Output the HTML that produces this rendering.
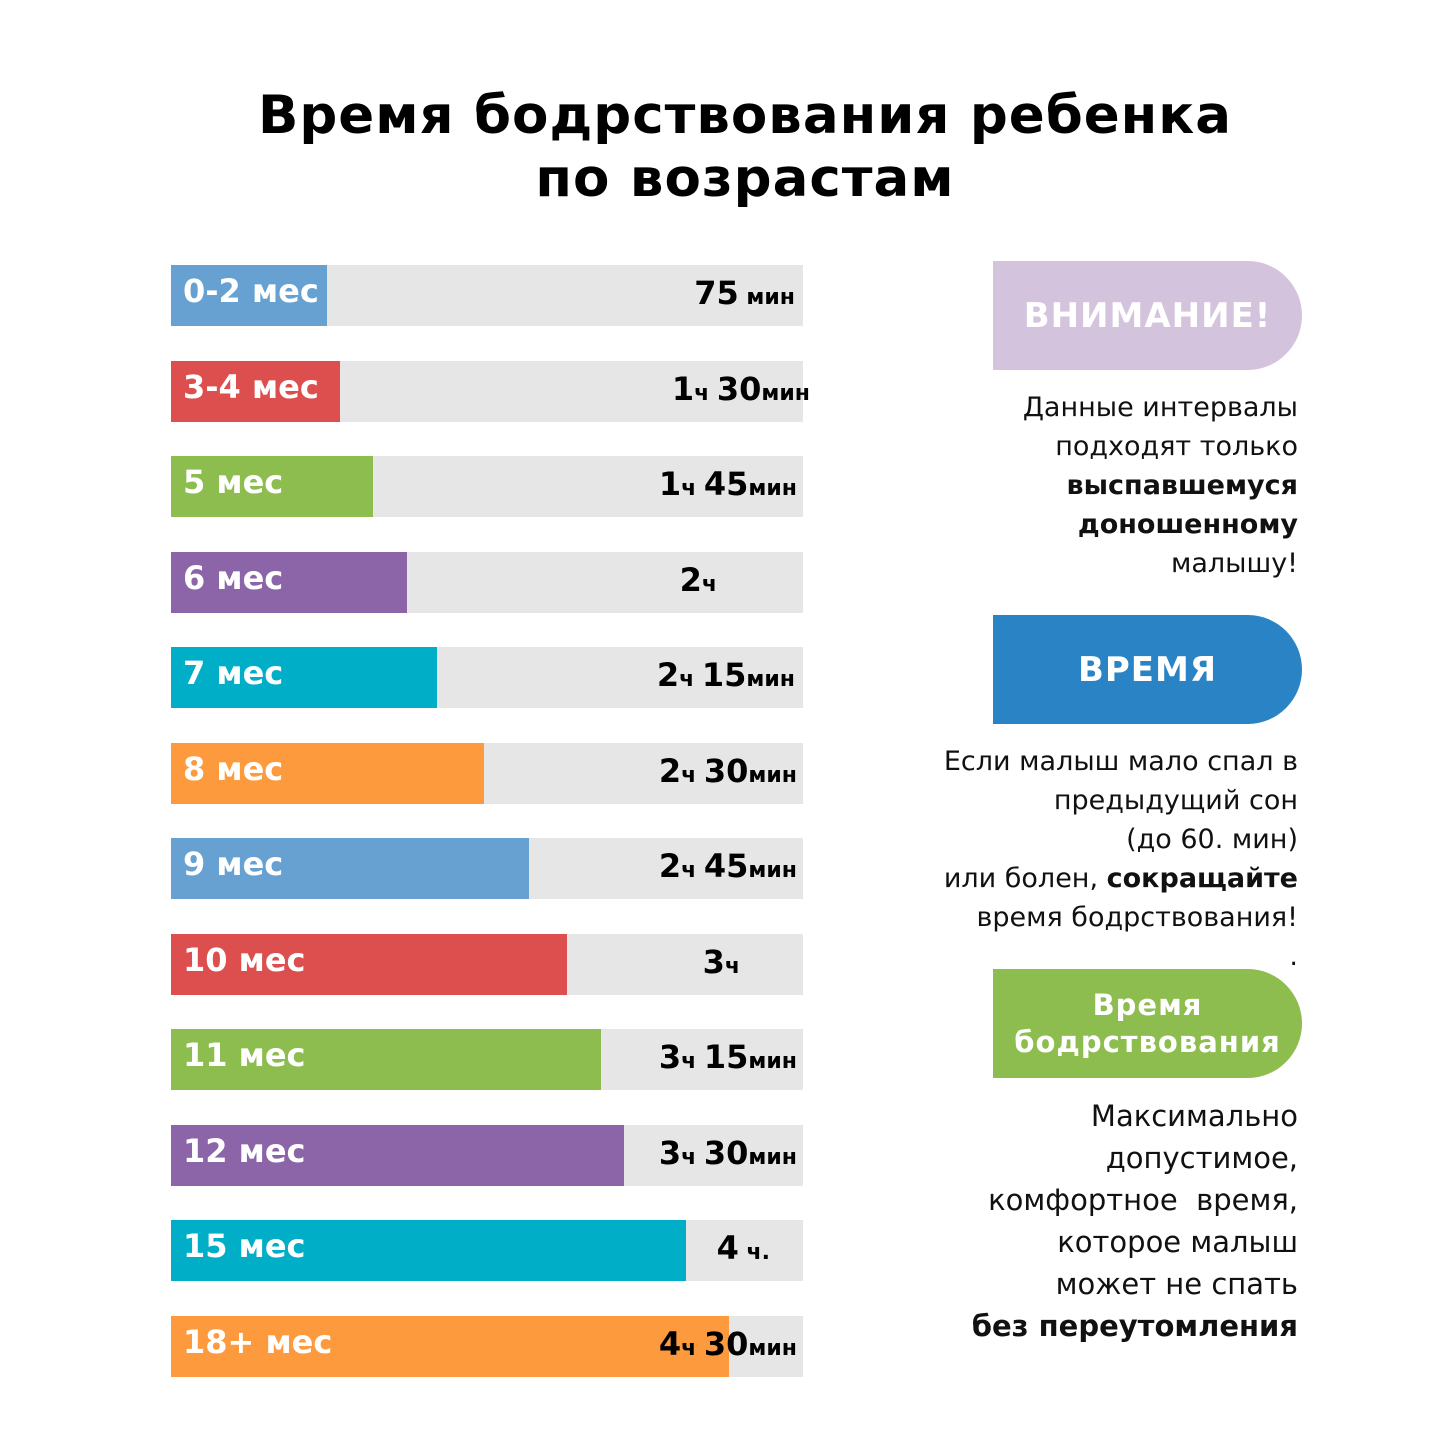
<!DOCTYPE html>
<html><head><meta charset="utf-8">
<style>
body{margin:0;background:#fff;width:1440px;height:1440px;position:relative;overflow:hidden;font-family:"DejaVu Sans","Liberation Sans",sans-serif;}
.abs{position:absolute;}
h1{position:absolute;left:0;width:1490px;top:84px;margin:0;text-align:center;font-size:53px;line-height:63px;font-weight:bold;color:#000;letter-spacing:1px;}
.track{position:absolute;left:171px;width:632px;height:61px;background:#e6e6e6;}
.fill{position:absolute;left:0;top:0;height:61px;overflow:hidden;}
.lab{position:absolute;left:12px;top:6px;color:#fff;font-weight:bold;font-size:32px;white-space:nowrap;line-height:40px;}
.val{position:absolute;font-weight:bold;font-size:32px;color:#000;white-space:nowrap;text-align:right;line-height:40px;}
.val small{font-size:22px;font-weight:bold;}
.box{position:absolute;left:993px;width:309px;height:109px;border-radius:0 55px 55px 0/0 55px 55px 0;color:#fff;font-weight:bold;display:flex;align-items:center;justify-content:center;text-align:center;}
.note{position:absolute;right:142px;text-align:right;font-size:27px;line-height:39px;color:#111;white-space:nowrap;}
</style></head><body>
<h1>Время бодрствования ребенка<br>по возрастам</h1>
<div id="chart"></div>

<div class="box" style="top:261px;background:#d4c3dc;font-size:34px;letter-spacing:1px;">ВНИМАНИЕ!</div>
<div class="note" style="top:388px;">Данные интервалы<br>подходят только<br><b>выспавшемуся</b><br><b>доношенному</b><br>малышу!</div>

<div class="box" style="top:615px;background:#2a83c5;font-size:34px;letter-spacing:1px;">ВРЕМЯ</div>
<div class="note" style="top:742px;">Если малыш мало спал в<br>предыдущий сон<br>(до 60. мин)<br>или болен, <b>сокращайте</b><br>время бодрствования!<br>.</div>

<div class="box" style="top:969px;background:#8dbd4f;font-size:29px;line-height:37px;letter-spacing:1px;">Время<br>бодрствования</div>
<div class="note" style="top:1095px;font-size:29px;line-height:42px;">Максимально<br>допустимое,<br>комфортное&nbsp; время,<br>которое малыш<br>может не спать<br><b>без переутомления</b></div>

<script>
const categories=["0-2 мес","3-4 мес","5 мес","6 мес","7 мес","8 мес","9 мес","10 мес","11 мес","12 мес","15 мес","18+ мес"];
const fillPercent=[24.7,26.7,32,37.3,42.1,49.5,56.6,62.7,68,71.7,81.5,88.3];
const bigText=["75","1","1","2","2","2","2","3","3","3","4","4"];
const mid=["","ч ","ч ","ч","ч ","ч ","ч ","ч","ч ","ч ","",  "ч "];
const minText=["","30","45","","15","30","45","","15","30","",  "30"];
const unitText=[" мин","мин","мин","","мин","мин","мин","","мин","мин"," ч.","мин"];
const colors=["#66a1d1","#dd4e4e","#8dbd4f","#8c65a8","#01aec7","#fd9a3e","#66a1d1","#dd4e4e","#8dbd4f","#8c65a8","#01aec7","#fd9a3e"];
const valRight=[645,630,643,723,645,643,643,700,643,643,670,643];
const chart=document.getElementById('chart');
const trackW=632, top0=265, step=95.5;
const xScale=p=>p/100*trackW;
categories.forEach((c,i)=>{
  const t=document.createElement('div');
  t.className='track';
  
  
  t.style.top=(top0+i*step)+'px';
  const f=document.createElement('div');
  f.className='fill';
  
  
  f.style.width=xScale(fillPercent[i])+'px';
  f.style.background=colors[i];
  const l=document.createElement('div');
  l.className='lab';
  
  
  l.textContent=c;
  f.appendChild(l);
  t.appendChild(f);
  const v=document.createElement('div');
  v.className='val';
  
  
  v.style.right=(trackW-valRight[i]-(i==1?0:0))+'px';
  v.style.right='auto';
  v.style.left='auto';
  let h=bigText[i]+(mid[i]?'<small>'+mid[i]+'</small>':'')+minText[i]+'<small>'+unitText[i]+'</small>';
  if(i==10) h='4<small> ч.</small>';
  v.innerHTML=h;
  v.style.top='8px';
  t.appendChild(v);
  requestAnimationFrame(()=>{});
  const ends=[795,810,797,717,795,797,797,740,797,797,770,797];
  v.style.right=(171+trackW-ends[i])+'px';
  chart.appendChild(t);
});
</script>
</body></html>
